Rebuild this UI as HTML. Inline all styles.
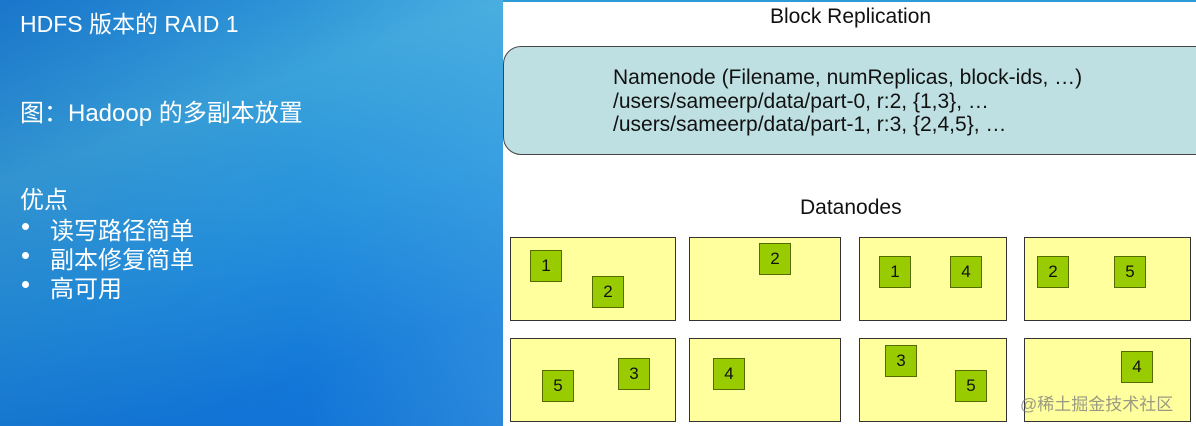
<!DOCTYPE html>
<html><head><meta charset="utf-8"><style>
body{margin:0;width:1196px;height:426px;overflow:hidden;position:relative;font-family:"Liberation Sans","Noto Sans CJK SC",sans-serif;background:#fff}
.left{position:absolute;left:0;top:0;width:503px;height:426px;background:linear-gradient(160deg,#1d80d4 0%,#3aa2da 30%,#2590dc 55%,#1377d8 80%,#0f6fd4 100%)}
.left::after{content:"";position:absolute;inset:0;background:linear-gradient(90deg,rgba(0,60,150,0.15),rgba(255,255,255,0) 60%,rgba(120,210,240,0.25))}
.t{position:absolute;color:#fff;white-space:nowrap;z-index:2}
.dot{position:absolute;left:22px;width:7px;height:7px;border-radius:50%;background:#fff;z-index:2}
.top{position:absolute;left:503px;top:0;width:693px;height:2px;background:#2f9ad8}
.lbl{position:absolute;color:#111;font-size:21px;white-space:nowrap}
.nn{position:absolute;left:503px;top:46px;width:720px;height:107px;background:#bfe0e3;border:1px solid #444;border-radius:18px}
.dn{position:absolute;background:#ffff9e;border:1.5px solid #333;box-sizing:border-box}
.b{position:absolute;width:32px;height:32px;background:#99cc00;border:1.5px solid #556b00;box-sizing:border-box;font-size:17px;text-align:center;line-height:30px;color:#111}
</style></head><body>
<div class="left"></div>
<div class="t" style="left:20px;top:5px;font-size:23px">HDFS 版本的 RAID 1</div>
<div class="t" style="left:20px;top:93px;font-size:24px">图：Hadoop 的多副本放置</div>
<div class="t" style="left:20px;top:180px;font-size:24px">优点</div>
<div class="dot" style="top:223px"></div>
<div class="t" style="left:50px;top:211px;font-size:24px">读写路径简单</div>
<div class="dot" style="top:252px"></div>
<div class="t" style="left:50px;top:240px;font-size:24px">副本修复简单</div>
<div class="dot" style="top:281px"></div>
<div class="t" style="left:50px;top:269px;font-size:24px">高可用</div>
<div class="top"></div>
<div class="lbl" style="left:770px;top:5px">Block Replication</div>
<div class="nn"></div>
<div class="lbl" style="left:613px;top:66px;line-height:23.5px">Namenode (Filename, numReplicas, block-ids, …)<br>/users/sameerp/data/part-0, r:2, {1,3}, …<br>/users/sameerp/data/part-1, r:3, {2,4,5}, …</div>
<div class="lbl" style="left:800px;top:196px">Datanodes</div>
<div class="dn" style="left:510px;top:237px;width:166px;height:84px"></div>
<div class="dn" style="left:689px;top:237px;width:152px;height:84px"></div>
<div class="dn" style="left:859px;top:237px;width:148px;height:84px"></div>
<div class="dn" style="left:1024px;top:237px;width:167px;height:84px"></div>
<div class="dn" style="left:510px;top:338px;width:166px;height:84px"></div>
<div class="dn" style="left:689px;top:338px;width:152px;height:84px"></div>
<div class="dn" style="left:859px;top:338px;width:148px;height:84px"></div>
<div class="dn" style="left:1024px;top:338px;width:167px;height:84px"></div>
<div class="b" style="left:530px;top:250px">1</div>
<div class="b" style="left:592px;top:276px">2</div>
<div class="b" style="left:759px;top:243px">2</div>
<div class="b" style="left:879px;top:256px">1</div>
<div class="b" style="left:950px;top:256px">4</div>
<div class="b" style="left:1037px;top:256px">2</div>
<div class="b" style="left:1114px;top:256px">5</div>
<div class="b" style="left:542px;top:370px">5</div>
<div class="b" style="left:618px;top:358px">3</div>
<div class="b" style="left:713px;top:358px">4</div>
<div class="b" style="left:885px;top:345px">3</div>
<div class="b" style="left:955px;top:370px">5</div>
<div class="b" style="left:1121px;top:351px">4</div>
<div style="position:absolute;left:1020px;top:390px;font-size:17px;color:rgba(120,120,120,0.75);white-space:nowrap">@稀土掘金技术社区</div>
</body></html>
